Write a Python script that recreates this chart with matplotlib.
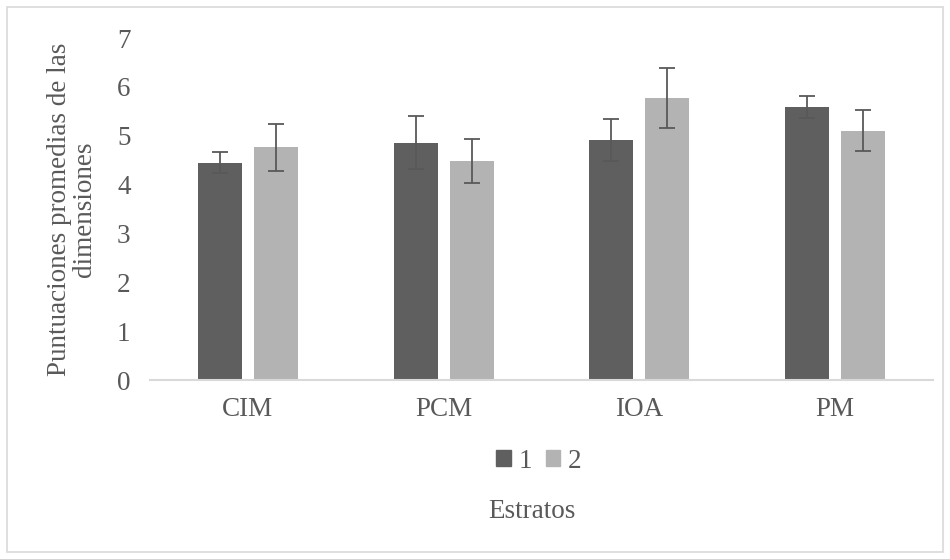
import numpy as np
import matplotlib.pyplot as plt
from matplotlib.patches import Rectangle

# data
categories = ['CIM', 'PCM', 'IOA', 'PM']
estrato1 = [4.45, 4.86, 4.91, 5.59]
estrato1_err = [0.22, 0.54, 0.43, 0.22]
estrato2 = [4.76, 4.49, 5.77, 5.10]
estrato2_err = [0.49, 0.45, 0.61, 0.42]
series_labels = ['1', '2']

plt.rcParams['font.family'] = ['Liberation Serif', 'DejaVu Serif']
text_color = '#595959'
dark = '#5f5f5f'
light = '#b3b3b3'
fs = 19.5

fig = plt.figure(figsize=(9.5, 5.59), dpi=100)
ax = fig.add_axes([150 / 950, 1 - 380 / 559, 783 / 950, 342 / 559])

x = np.arange(len(categories))
w = 0.224
off = 0.143
err_kw = dict(ecolor='#595959', elinewidth=1.3, capsize=6, capthick=1.3)
ax.bar(x - off, estrato1, w, color=dark, yerr=estrato1_err, error_kw=err_kw, zorder=2)
ax.bar(x + off, estrato2, w, color=light, yerr=estrato2_err, error_kw=err_kw, zorder=2)

ax.set_xlim(-0.5, len(categories) - 0.5)
ax.set_ylim(0, 7)
ax.set_yticks(range(0, 8))
ax.set_xticks(x)
ax.set_xticklabels(categories)
ax.tick_params(axis='both', length=0, labelsize=fs, colors=text_color)
ax.tick_params(axis='y', pad=14)
ax.tick_params(axis='x', pad=12)
for s in ['top', 'right', 'left']:
    ax.spines[s].set_visible(False)
ax.spines['bottom'].set_color('#d9d9d9')
ax.spines['bottom'].set_linewidth(1.5)

fig.text(72 / 950, 1 - 209 / 559, 'Puntuaciones promedias de las\ndimensiones',
         rotation=90, ha='center', va='center', fontsize=fs, color=text_color,
         linespacing=0.95)
fig.text(532 / 950, 1 - 512 / 559, 'Estratos', ha='center', va='center',
         fontsize=fs, color=text_color)

handles = [Rectangle((0, 0), 1, 1, color=dark), Rectangle((0, 0), 1, 1, color=light)]
fig.legend(handles, series_labels, loc='center', bbox_to_anchor=(539 / 950, 1 - 461 / 559),
           ncol=2, frameon=False, fontsize=fs, labelcolor=text_color,
           handlelength=0.52, handleheight=0.52, handletextpad=0.3, columnspacing=0.5)

fig.patches.append(Rectangle((7 / 950, 7 / 559), 936 / 950, 545 / 559, transform=fig.transFigure,
                             fill=False, edgecolor='#d9d9d9', linewidth=1.2))

fig.savefig('out.png', dpi=100)
